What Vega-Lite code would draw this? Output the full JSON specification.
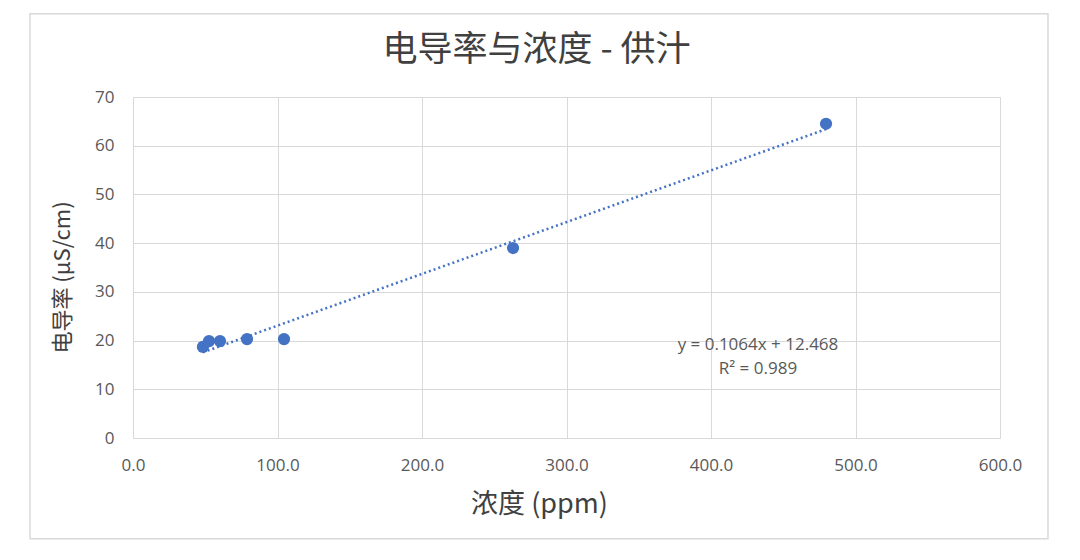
{
  "$schema": "https://vega.github.io/schema/vega-lite/v6.json",
  "width": 867,
  "height": 341,
  "autosize": {"type": "none"},
  "padding": {"left": 133, "top": 97, "right": 80, "bottom": 122},
  "background": "white",
  "config": {
    "view": {"stroke": null},
    "font": "Noto Sans CJK SC",
    "axis": {
      "gridColor": "#d9d9d9",
      "gridWidth": 1,
      "domain": false,
      "ticks": false,
      "labelColor": "#595959",
      "labelFontSize": 17,
      "labelFont": "Open Sans",
      "labelFlush": false,
      "labelOverlap": false,
      "titleColor": "#404040",
      "titleFontWeight": "normal"
    }
  },
  "title": {
    "text": "电导率与浓度 - 供汁",
    "fontSize": 35,
    "fontWeight": "normal",
    "color": "#404040",
    "anchor": "middle",
    "frame": "group",
    "dx": -30,
    "offset": -55
  },
  "datasets": {
    "points": [
      {"c": 48.4, "k": 18.7},
      {"c": 52.6, "k": 19.9},
      {"c": 60.2, "k": 19.9},
      {"c": 78.9, "k": 20.3},
      {"c": 104.5, "k": 20.3},
      {"c": 263.0, "k": 39.0},
      {"c": 479.6, "k": 64.5}
    ],
    "labels": [
      {"c": 432.5, "k": 19.0, "t": "y = 0.1064x + 12.468"},
      {"c": 432.5, "k": 14.2, "t": "R² = 0.989"}
    ],
    "frame": [
      {"x1": -71.3, "x2": 633.2, "y1": 87.1, "y2": -20.7}
    ]
  },
  "layer": [
    {
      "data": {"name": "frame"},
      "mark": {"type": "rect", "fill": null, "stroke": "#d9d9d9", "strokeWidth": 1.5, "clip": false},
      "encoding": {
        "x": {"field": "x1", "type": "quantitative", "scale": {"domain": [0, 600]}},
        "x2": {"field": "x2"},
        "y": {"field": "y1", "type": "quantitative", "scale": {"domain": [0, 70]}},
        "y2": {"field": "y2"}
      }
    },
    {
      "data": {"name": "points"},
      "transform": [{"regression": "k", "on": "c"}],
      "mark": {"type": "line", "color": "#4472C4", "strokeWidth": 2.5, "strokeDash": [2, 3]},
      "encoding": {
        "x": {"field": "c", "type": "quantitative"},
        "y": {"field": "k", "type": "quantitative"}
      }
    },
    {
      "data": {"name": "points"},
      "mark": {"type": "circle", "color": "#4472C4", "opacity": 1, "size": 150},
      "encoding": {
        "x": {
          "field": "c",
          "type": "quantitative",
          "scale": {"domain": [0, 600], "nice": false, "zero": true},
          "axis": {
            "title": "浓度 (ppm)",
            "titleFontSize": 27,
            "titleX": 406,
            "titleY": 66,
            "titleBaseline": "middle",
            "format": ".1f",
            "values": [0, 100, 200, 300, 400, 500, 600],
            "labelPadding": 19
          }
        },
        "y": {
          "field": "k",
          "type": "quantitative",
          "scale": {"domain": [0, 70], "nice": false},
          "axis": {
            "title": "电导率 (μS/cm)",
            "titleFontSize": 22,
            "titleX": -71,
            "titleY": 180,
            "titleBaseline": "middle",
            "values": [0, 10, 20, 30, 40, 50, 60, 70],
            "labelPadding": 19
          }
        }
      }
    },
    {
      "data": {"name": "labels"},
      "mark": {"type": "text", "fontSize": 17, "color": "#595959", "font": "Open Sans", "align": "center", "baseline": "middle"},
      "encoding": {
        "x": {"field": "c", "type": "quantitative"},
        "y": {"field": "k", "type": "quantitative"},
        "text": {"field": "t"}
      }
    }
  ]
}
